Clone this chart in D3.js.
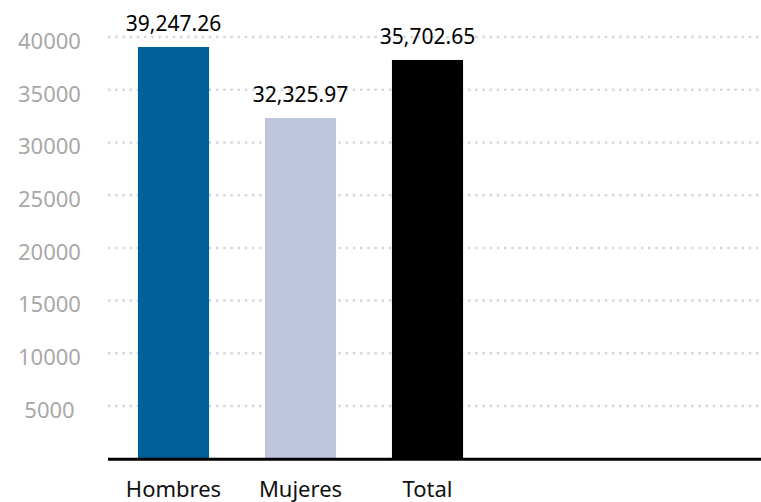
<!DOCTYPE html>
<html>
<head>
<meta charset="utf-8">
<script src="https://cdn.jsdelivr.net/npm/d3@7"></script>
<style>
  body { margin: 0; background: #fff; }
  svg { display: block; font-family: "Noto Sans", sans-serif; }
</style>
</head>
<body>
<svg id="chart"></svg>
<script>
const categories = ["Hombres", "Mujeres", "Total"];
// values printed above the bars
const labelValues = [39247.26, 32325.97, 35702.65];
// bar heights as drawn in the picture (Total bar is taller than its label)
const barValues = [39060, 32325, 37830];
const barColors = ["#005f99", "#bec5df", "#000000"];
const yTicks = [5000, 10000, 15000, 20000, 25000, 30000, 35000, 40000];

const W = 761, H = 502;
const left = 108, right = 761;
const baseline = 458.7;

const svg = d3.select("#chart").attr("width", W).attr("height", H);

const y = d3.scaleLinear().domain([0, 40000]).range([baseline, baseline - 8 * 52.7]);
const x = d3.scaleBand().domain(categories).range([110, 491])
  .paddingInner(0.44).paddingOuter(0.22);

// dotted gridlines
svg.append("g").selectAll("line")
  .data(yTicks)
  .join("line")
  .attr("x1", left).attr("x2", right)
  .attr("y1", d => y(d)).attr("y2", d => y(d))
  .attr("stroke", "#d8d8d8")
  .attr("stroke-width", 2.5)
  .attr("stroke-dasharray", "2.5 4.7");

// y tick labels, centred in the left margin
svg.append("g").selectAll("text")
  .data(yTicks)
  .join("text")
  .attr("x", 49.5)
  .attr("y", d => y(d) + 11.7)
  .attr("text-anchor", "middle")
  .attr("fill", "#a8a8a8")
  .attr("font-size", 22)
  .text(d => d);

// bars
svg.append("g").selectAll("rect")
  .data(categories)
  .join("rect")
  .attr("x", d => x(d))
  .attr("width", x.bandwidth())
  .attr("y", (d, i) => y(barValues[i]))
  .attr("height", (d, i) => baseline - y(barValues[i]))
  .attr("fill", (d, i) => barColors[i]);

// value labels
svg.append("g").selectAll("text")
  .data(categories)
  .join("text")
  .attr("x", d => x(d) + x.bandwidth() / 2)
  .attr("y", (d, i) => y(barValues[i]) - 16)
  .attr("text-anchor", "middle")
  .attr("fill", "#000")
  .attr("font-size", 21)
  .text((d, i) => d3.format(",.2f")(labelValues[i]));

// baseline axis
svg.append("line")
  .attr("x1", left).attr("x2", right)
  .attr("y1", baseline + 0.6).attr("y2", baseline + 0.6)
  .attr("stroke", "#000")
  .attr("stroke-width", 3);

// category labels
svg.append("g").selectAll("text")
  .data(categories)
  .join("text")
  .attr("x", d => x(d) + x.bandwidth() / 2)
  .attr("y", 497)
  .attr("text-anchor", "middle")
  .attr("fill", "#111")
  .attr("font-size", 22)
  .text(d => d);
</script>
</body>
</html>
